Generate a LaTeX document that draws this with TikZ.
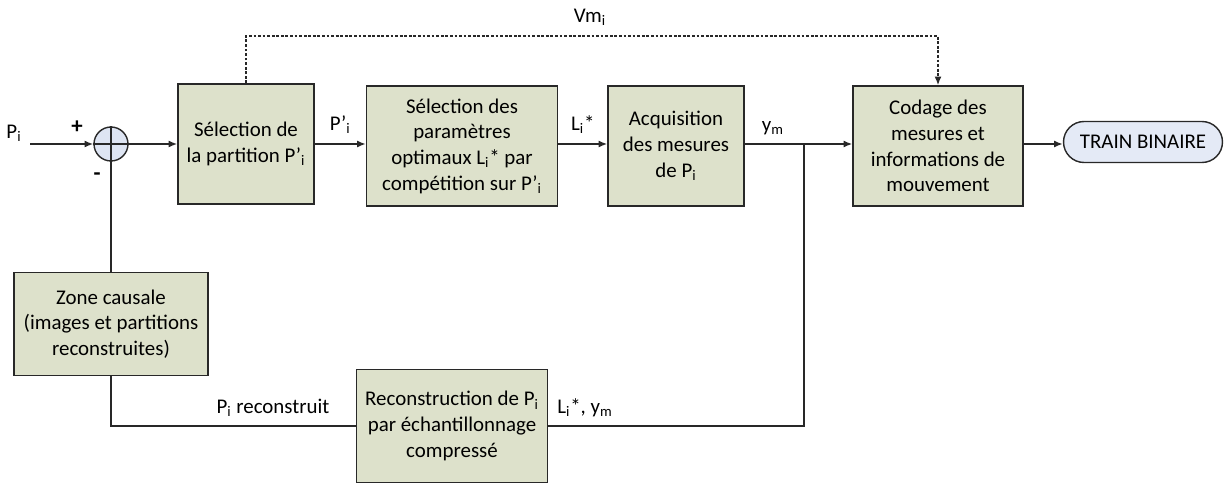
\documentclass[tikz,border=0pt]{standalone}
\usepackage{fontspec}
\setmainfont{Carlito}
\usepackage{xcolor}
\usepackage{tikz}
\usetikzlibrary{arrows.meta}
\definecolor{boxColor}{RGB}{221, 225, 203}
\definecolor{sumColor}{RGB}{222, 229, 243}
\definecolor{trainColor}{RGB}{228, 234, 246}
\definecolor{lineColor}{RGB}{40, 40, 40}
\newcommand{\idx}[1]{\textsubscript{#1}}

\begin{document}
\begin{tikzpicture}[x=0.02cm, y=-0.02cm, font=\fontsize{11.9}{14.6}\selectfont,
	bloc/.style={draw=lineColor, line width=0.8pt, fill=boxColor, align=center, inner sep=2pt},
	fleche/.style={draw=lineColor, line width=0.9pt, -{Latex[length=5pt, width=4pt]}},
	trait/.style={draw=lineColor, line width=0.9pt},
	pointille/.style={draw=lineColor, line width=0.9pt, dash pattern=on 1.6pt off 1pt, -{Latex[length=5pt, width=4pt]}}]
	\useasboundingbox (0, 0) rectangle (1227, 486);

	% Blocks
	\node[circle, draw=lineColor, line width=0.8pt, fill=sumColor, minimum size=0.68cm, inner sep=0pt] (sum) at (111, 144) {};
	\node[bloc, minimum width=2.72cm, minimum height=2.4cm] (sel) at (246, 144) {Sélection de\\la partition P’\idx{i}};
	\node[bloc, minimum width=3.82cm, minimum height=2.4cm] (par) at (462, 146) {Sélection des\\paramètres\\optimaux L\idx{i}* par\\compétition sur P’\idx{i}};
	\node[bloc, minimum width=2.72cm, minimum height=2.4cm] (acq) at (676, 146) {Acquisition\\des mesures\\de P\idx{i}};
	\node[bloc, minimum width=3.4cm, minimum height=2.4cm] (cod) at (938, 146) {Codage des\\mesures et\\informations de\\mouvement};
	\node[draw=lineColor, line width=0.8pt, fill=trainColor, rounded corners=0.41cm, minimum width=3.18cm, minimum height=0.82cm] (train) at (1143, 142) {TRAIN BINAIRE};
	\node[bloc, minimum width=3.88cm, minimum height=2.06cm] (zone) at (111, 324) {Zone causale\\(images et partitions\\reconstruites)};
	\node[bloc, minimum width=3.82cm, minimum height=2.26cm] (rec) at (452, 426) {Reconstruction de P\idx{i}\\par échantillonnage\\compressé};

	% Free ends
	\coordinate (in) at (30, 144);
	\coordinate (br) at (804, 144);
	\coordinate (vm) at (590, 36);

	% Forward path
	\draw[fleche] (in) -- (sum.west);
	\draw[trait] (sum.north) -- (sum.south);
	\draw[fleche] (sum.west) -- (sel.west |- sum);
	\draw[fleche] (sel.east |- sum) -- (par.west |- sum) node[midway, above=2pt] {P’\idx{i}};
	\draw[fleche] (par.east |- sum) -- (acq.west |- sum) node[midway, above=2pt] {L\idx{i}*};
	\draw[fleche] (acq.east |- sum) -- (cod.west |- sum);
	\draw[fleche] (cod.east |- sum) -- (train.west |- sum);
	\node at (773, 128) {y\idx{m}};

	% Motion vectors
	\draw[pointille] (sel.north) |- (vm) -| (cod.north);
	\node at (590, 17) {Vm\idx{i}};

	% Feedback loop
	\draw[trait] (sum.south) -- (zone.north);
	\draw[trait] (zone.south) |- (rec.west);
	\draw[trait] (rec.east) -| (br);
	\node at (273, 408) {P\idx{i} reconstruit};
	\node at (585, 408) {L\idx{i}*, y\idx{m}};

	% Signs and input
	\node at (14, 133) {P\idx{i}};
	\node[font=\fontsize{13}{15}\selectfont\bfseries] at (77, 127) {+};
	\node[font=\fontsize{13}{15}\selectfont\bfseries] at (97, 177) {-};
\end{tikzpicture}
\end{document}
